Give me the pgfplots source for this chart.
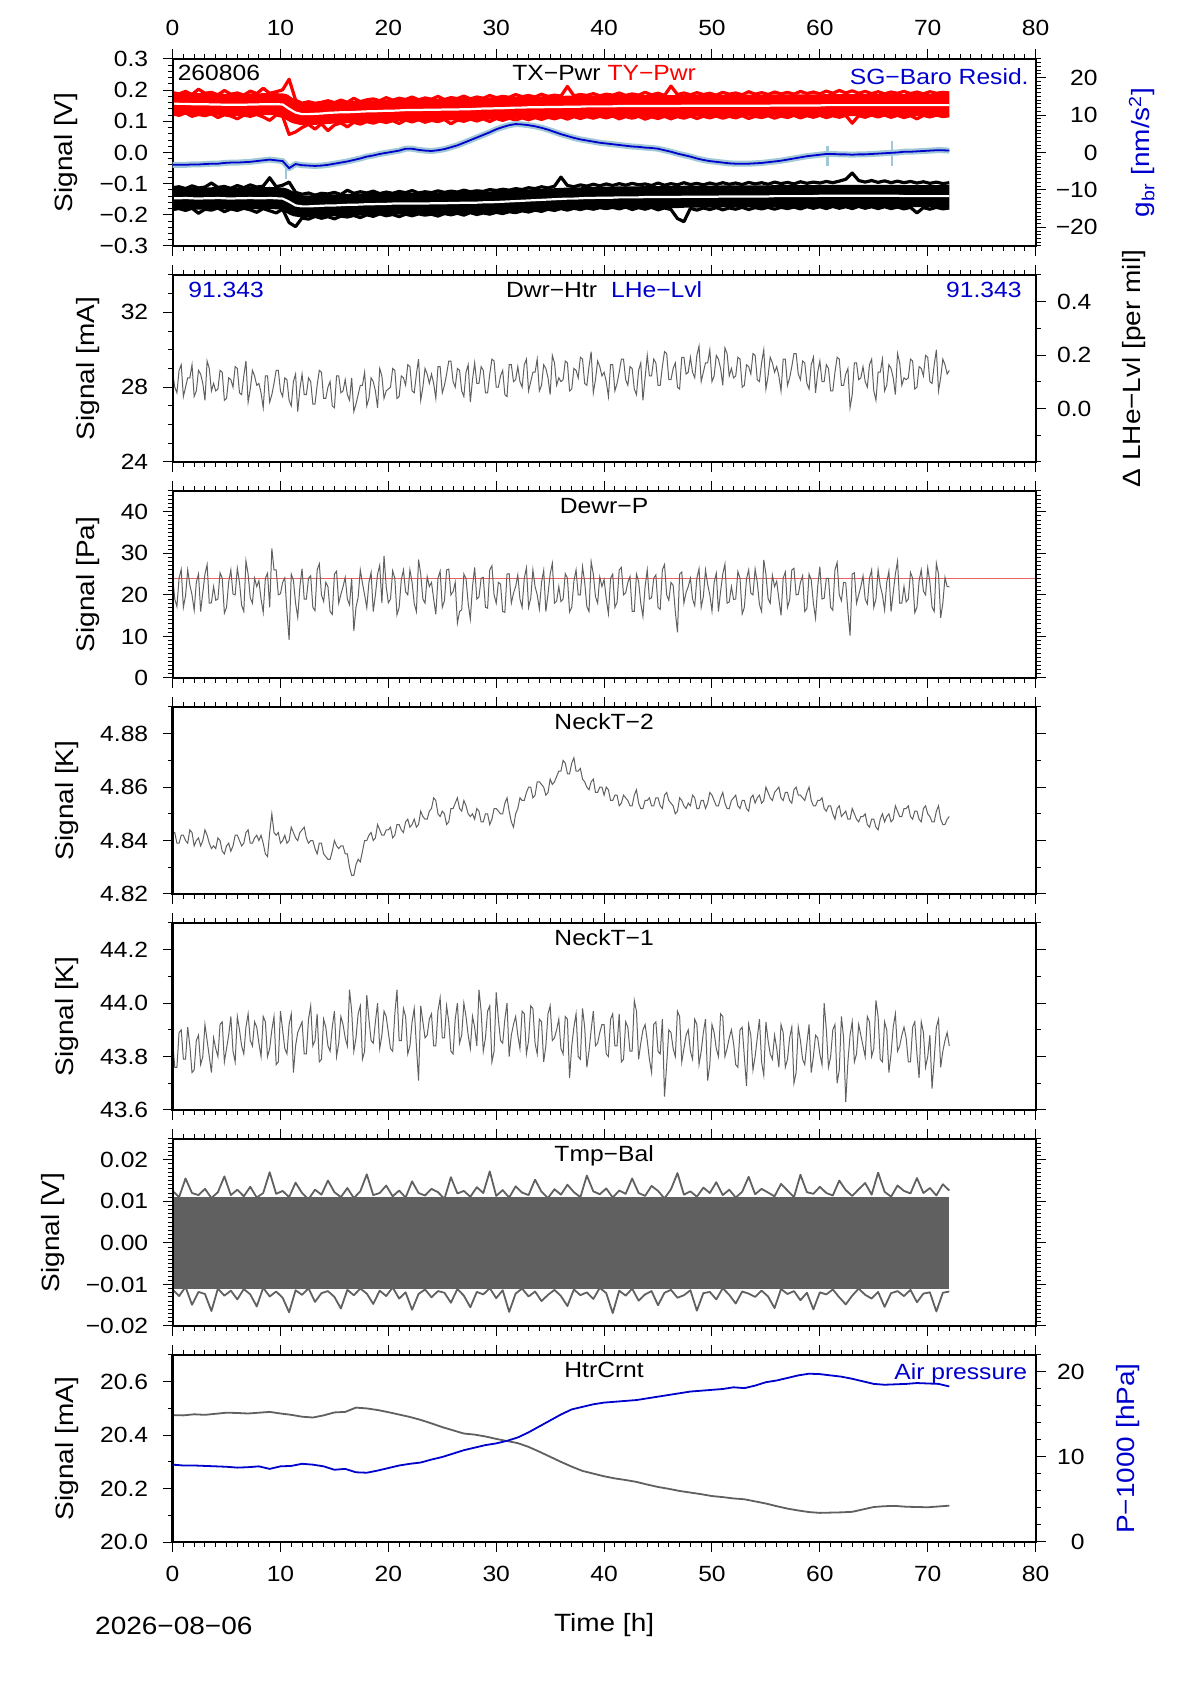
\documentclass[border=0pt]{standalone}
\usepackage{fontspec}
\setmainfont{Liberation Sans}[FakeStretch=1.12]
\usepackage{pgfplots}
\pgfplotsset{compat=1.18}
\usepackage{pgfplotstable}

\definecolor{dblue}{RGB}{0,0,205}
\definecolor{lblue}{RGB}{160,200,215}
\definecolor{sgray}{RGB}{96,96,96}
\definecolor{lred}{RGB}{235,100,100}

\newcommand{\tfont}{\fontsize{11bp}{13bp}\selectfont}
\newcommand{\lfont}{\fontsize{12.5bp}{15bp}\selectfont}

% Panel 1: TY-Pwr (r) and TX-Pwr (b) envelopes and means [V]; SG-Baro residual (gC) [nm/s^2]
\pgfplotstableread{
x rU rL rC bU bL bC gC
0.0 0.192 0.124 0.157 -0.113 -0.183 -0.147 -3.3
0.6 0.188 0.119 0.156 -0.110 -0.180 -0.147 -3.3
1.2 0.196 0.127 0.156 -0.116 -0.186 -0.146 -3.3
1.8 0.186 0.116 0.155 -0.107 -0.179 -0.147 -3.2
2.4 0.203 0.122 0.155 -0.114 -0.195 -0.148 -3.2
3.0 0.190 0.118 0.155 -0.111 -0.182 -0.147 -3.1
3.6 0.193 0.124 0.154 -0.098 -0.185 -0.147 -3.0
4.2 0.185 0.112 0.154 -0.112 -0.178 -0.146 -3.0
4.8 0.199 0.121 0.153 -0.109 -0.190 -0.147 -2.8
5.4 0.187 0.117 0.153 -0.115 -0.181 -0.148 -2.7
6.0 0.191 0.108 0.153 -0.106 -0.186 -0.147 -2.7
6.6 0.184 0.120 0.153 -0.113 -0.179 -0.147 -2.6
7.2 0.197 0.116 0.154 -0.104 -0.184 -0.146 -2.5
7.8 0.189 0.122 0.154 -0.111 -0.192 -0.147 -2.3
8.4 0.206 0.114 0.155 -0.108 -0.180 -0.147 -2.1
9.0 0.190 0.103 0.155 -0.081 -0.187 -0.146 -1.9
9.6 0.195 0.120 0.155 -0.110 -0.194 -0.147 -2.1
10.2 0.201 0.116 0.154 -0.105 -0.182 -0.148 -2.3
10.8 0.235 0.058 0.140 -0.095 -0.225 -0.158 -4.2
11.4 0.168 0.066 0.128 -0.128 -0.238 -0.170 -3.1
12.0 0.158 0.080 0.123 -0.134 -0.210 -0.173 -3.4
12.6 0.163 0.090 0.123 -0.130 -0.214 -0.173 -3.5
13.2 0.158 0.075 0.124 -0.137 -0.205 -0.172 -3.6
13.8 0.161 0.092 0.125 -0.131 -0.211 -0.171 -3.5
14.4 0.166 0.070 0.127 -0.133 -0.206 -0.170 -3.3
15.0 0.160 0.088 0.128 -0.128 -0.213 -0.170 -3.0
15.6 0.168 0.095 0.129 -0.135 -0.204 -0.169 -2.7
16.2 0.161 0.082 0.129 -0.121 -0.207 -0.168 -2.4
16.8 0.174 0.097 0.130 -0.131 -0.202 -0.168 -2.0
17.4 0.163 0.091 0.131 -0.126 -0.209 -0.167 -1.6
18.0 0.169 0.099 0.132 -0.130 -0.200 -0.166 -1.1
18.6 0.172 0.094 0.132 -0.124 -0.205 -0.166 -0.8
19.2 0.166 0.101 0.133 -0.132 -0.197 -0.165 -0.4
19.8 0.176 0.096 0.134 -0.127 -0.203 -0.165 -0.1
20.4 0.168 0.102 0.134 -0.131 -0.199 -0.164 0.2
21.0 0.174 0.093 0.135 -0.125 -0.206 -0.164 0.5
21.6 0.170 0.104 0.136 -0.129 -0.198 -0.164 1.0
22.2 0.178 0.098 0.136 -0.122 -0.203 -0.164 1.0
22.8 0.169 0.105 0.136 -0.130 -0.197 -0.164 0.7
23.4 0.175 0.097 0.137 -0.126 -0.201 -0.164 0.5
24.0 0.171 0.103 0.137 -0.129 -0.198 -0.163 0.4
24.6 0.180 0.099 0.137 -0.123 -0.204 -0.163 0.6
25.2 0.170 0.106 0.138 -0.128 -0.196 -0.163 0.9
25.8 0.176 0.092 0.138 -0.124 -0.200 -0.162 1.4
26.4 0.173 0.104 0.138 -0.127 -0.195 -0.162 1.9
27.0 0.181 0.100 0.139 -0.121 -0.201 -0.161 2.6
27.6 0.172 0.107 0.139 -0.126 -0.193 -0.161 3.3
28.2 0.178 0.101 0.140 -0.123 -0.199 -0.161 4.0
28.8 0.174 0.108 0.141 -0.125 -0.194 -0.160 4.7
29.4 0.183 0.099 0.141 -0.119 -0.198 -0.160 5.4
30.0 0.176 0.109 0.142 -0.122 -0.192 -0.159 6.2
30.6 0.180 0.103 0.142 -0.118 -0.196 -0.158 6.8
31.2 0.177 0.110 0.143 -0.121 -0.190 -0.157 7.3
31.8 0.186 0.104 0.144 -0.116 -0.193 -0.156 7.6
32.4 0.179 0.111 0.144 -0.119 -0.187 -0.155 7.5
33.0 0.183 0.105 0.145 -0.113 -0.191 -0.154 7.3
33.6 0.178 0.112 0.145 -0.116 -0.185 -0.153 7.0
34.2 0.187 0.106 0.145 -0.110 -0.189 -0.152 6.6
34.8 0.180 0.113 0.146 -0.114 -0.182 -0.151 6.1
35.4 0.184 0.108 0.146 -0.108 -0.186 -0.150 5.5
36.0 0.181 0.114 0.146 -0.079 -0.180 -0.149 4.9
36.6 0.212 0.107 0.147 -0.106 -0.185 -0.148 4.4
37.2 0.182 0.115 0.147 -0.110 -0.179 -0.148 3.9
37.8 0.186 0.109 0.147 -0.104 -0.183 -0.147 3.5
38.4 0.183 0.115 0.148 -0.108 -0.178 -0.146 3.2
39.0 0.189 0.110 0.148 -0.102 -0.182 -0.146 2.9
39.6 0.182 0.116 0.148 -0.107 -0.177 -0.145 2.6
40.2 0.187 0.111 0.148 -0.101 -0.180 -0.145 2.4
40.8 0.184 0.117 0.148 -0.106 -0.176 -0.145 2.2
41.4 0.191 0.108 0.149 -0.100 -0.181 -0.144 2.0
42.0 0.183 0.115 0.149 -0.105 -0.175 -0.144 1.8
42.6 0.188 0.110 0.149 -0.099 -0.183 -0.144 1.6
43.2 0.184 0.116 0.149 -0.104 -0.177 -0.144 1.5
43.8 0.193 0.107 0.149 -0.101 -0.182 -0.143 1.3
44.4 0.185 0.114 0.149 -0.106 -0.176 -0.143 1.2
45.0 0.190 0.109 0.149 -0.098 -0.184 -0.143 1.0
45.6 0.183 0.116 0.149 -0.105 -0.178 -0.143 0.6
46.2 0.213 0.108 0.149 -0.100 -0.183 -0.143 0.2
46.8 0.186 0.115 0.149 -0.104 -0.212 -0.143 -0.3
47.4 0.191 0.110 0.150 -0.097 -0.222 -0.142 -0.7
48.0 0.185 0.117 0.150 -0.103 -0.179 -0.142 -1.1
48.6 0.192 0.109 0.150 -0.099 -0.185 -0.142 -1.6
49.2 0.186 0.116 0.150 -0.104 -0.178 -0.142 -2.0
49.8 0.190 0.111 0.150 -0.098 -0.183 -0.142 -2.3
50.4 0.184 0.117 0.150 -0.103 -0.177 -0.142 -2.5
51.0 0.193 0.110 0.150 -0.097 -0.184 -0.141 -2.7
51.6 0.187 0.116 0.150 -0.102 -0.178 -0.141 -2.9
52.2 0.191 0.111 0.150 -0.098 -0.182 -0.141 -3.0
52.8 0.185 0.118 0.150 -0.103 -0.176 -0.141 -3.0
53.4 0.195 0.109 0.150 -0.096 -0.183 -0.141 -3.0
54.0 0.187 0.116 0.150 -0.101 -0.177 -0.141 -2.9
54.6 0.192 0.112 0.150 -0.097 -0.181 -0.141 -2.8
55.2 0.186 0.118 0.150 -0.102 -0.176 -0.141 -2.6
55.8 0.194 0.110 0.151 -0.095 -0.182 -0.140 -2.4
56.4 0.188 0.117 0.151 -0.100 -0.176 -0.140 -2.2
57.0 0.193 0.112 0.151 -0.096 -0.180 -0.140 -1.9
57.6 0.187 0.119 0.151 -0.101 -0.175 -0.140 -1.6
58.2 0.196 0.111 0.151 -0.094 -0.181 -0.140 -1.3
58.8 0.189 0.118 0.151 -0.099 -0.174 -0.140 -1.0
59.4 0.194 0.113 0.151 -0.095 -0.179 -0.140 -0.8
60.0 0.188 0.119 0.151 -0.098 -0.174 -0.139 -0.6
60.6 0.197 0.112 0.152 -0.093 -0.180 -0.139 -0.4
61.2 0.190 0.118 0.152 -0.097 -0.173 -0.139 -0.4
61.8 0.199 0.113 0.152 -0.092 -0.179 -0.139 -0.5
62.4 0.191 0.119 0.152 -0.086 -0.174 -0.139 -0.5
63.0 0.198 0.094 0.152 -0.066 -0.180 -0.139 -0.6
63.6 0.190 0.118 0.152 -0.090 -0.173 -0.139 -0.5
64.2 0.196 0.113 0.152 -0.095 -0.179 -0.139 -0.5
64.8 0.189 0.120 0.152 -0.090 -0.174 -0.139 -0.4
65.4 0.195 0.114 0.152 -0.096 -0.180 -0.139 -0.3
66.0 0.188 0.120 0.152 -0.091 -0.174 -0.139 -0.2
66.6 0.194 0.113 0.152 -0.097 -0.180 -0.139 -0.1
67.2 0.190 0.119 0.152 -0.092 -0.175 -0.139 0.0
67.8 0.196 0.112 0.152 -0.097 -0.181 -0.140 0.2
68.4 0.189 0.118 0.152 -0.093 -0.176 -0.140 0.2
69.0 0.194 0.108 0.152 -0.098 -0.194 -0.140 0.3
69.6 0.188 0.119 0.152 -0.094 -0.177 -0.140 0.4
70.2 0.195 0.114 0.152 -0.099 -0.182 -0.140 0.5
70.8 0.190 0.120 0.152 -0.095 -0.176 -0.140 0.6
71.4 0.193 0.115 0.152 -0.100 -0.181 -0.140 0.6
72.0 0.191 0.118 0.152 -0.097 -0.178 -0.140 0.5
}\tabP

% Panels 2-5: Dwr-Htr [mA], Dewr-P [Pa], NeckT-2 [K], NeckT-1 [K]
\pgfplotstableread{
x dwr dewr nt2 nt1
0.0 28.8 24.5 4.843 43.86
0.2 28.0 19.0 4.843 43.76
0.4 27.7 17.2 4.839 43.76
0.6 28.9 24.0 4.839 43.89
0.8 29.2 26.1 4.842 43.90
1.0 27.5 17.0 4.842 43.79
1.2 28.0 19.8 4.840 43.79
1.4 28.5 26.0 4.839 43.91
1.6 28.5 22.4 4.844 43.84
1.8 29.2 20.0 4.843 43.74
2.0 27.5 16.3 4.838 43.75
2.2 27.8 23.0 4.840 43.86
2.4 28.9 25.0 4.841 43.88
2.6 28.7 16.0 4.838 43.77
2.8 28.2 20.6 4.840 43.80
3.0 27.3 25.0 4.844 43.92
3.2 29.4 27.3 4.842 43.86
3.4 29.0 18.0 4.839 43.80
3.6 27.8 18.1 4.837 43.74
3.8 28.2 22.0 4.838 43.87
4.0 27.8 18.7 4.837 43.83
4.2 27.9 19.0 4.841 43.80
4.4 28.9 25.3 4.840 43.92
4.6 28.8 24.0 4.836 43.93
4.8 27.3 15.6 4.835 43.78
5.0 27.4 17.0 4.838 43.83
5.2 28.5 23.1 4.839 43.88
5.4 28.4 26.0 4.836 43.95
5.6 28.0 20.2 4.838 43.82
5.8 29.1 20.0 4.842 43.78
6.0 29.0 26.4 4.842 43.95
6.2 27.7 23.0 4.840 43.90
6.4 27.6 17.5 4.838 43.84
6.6 28.6 16.0 4.839 43.81
6.8 29.4 28.2 4.843 43.91
7.0 27.2 25.0 4.844 43.96
7.2 27.9 19.3 4.839 43.86
7.4 28.9 18.0 4.839 43.84
7.6 28.6 24.0 4.841 43.93
7.8 28.1 22.0 4.842 43.91
8.0 28.2 23.4 4.840 43.85
8.2 27.7 19.0 4.842 43.80
8.4 26.9 15.8 4.839 43.95
8.6 28.6 24.0 4.835 43.93
8.8 28.6 25.2 4.834 43.80
9.0 27.2 17.0 4.843 43.83
9.2 27.6 31.2 4.850 43.90
9.4 28.2 26.0 4.843 43.95
9.6 28.9 26.0 4.842 43.77
9.8 28.9 20.0 4.843 43.78
10.0 27.8 20.3 4.839 43.97
10.2 27.5 23.0 4.840 43.90
10.4 28.5 24.1 4.842 43.83
10.6 28.4 16.0 4.839 43.81
10.8 27.3 9.2 4.840 43.92
11.0 27.0 25.0 4.845 43.96
11.2 28.3 23.5 4.843 43.74
11.4 28.7 18.0 4.841 43.84
11.6 26.7 14.6 4.840 43.89
11.8 27.9 22.0 4.843 43.91
12.0 28.7 26.3 4.844 43.93
12.2 27.6 19.0 4.845 43.81
12.4 27.6 19.0 4.841 43.81
12.6 28.5 24.0 4.839 43.94
12.8 28.3 24.6 4.840 43.99
13.0 27.1 17.0 4.840 43.84
13.2 27.1 16.2 4.837 43.86
13.4 28.1 26.0 4.835 43.96
13.6 28.9 27.5 4.839 43.78
13.8 28.8 20.0 4.839 43.79
14.0 27.4 18.4 4.835 43.94
14.2 27.4 23.0 4.834 43.91
14.4 28.0 22.0 4.833 43.84
14.6 28.3 16.0 4.833 43.82
14.8 27.0 15.3 4.836 43.91
15.0 26.9 25.0 4.840 43.97
15.2 28.6 25.7 4.838 43.80
15.4 28.6 18.0 4.837 43.85
15.6 27.7 20.1 4.838 43.95
15.8 27.8 22.0 4.838 43.92
16.0 28.4 24.2 4.835 43.87
16.2 27.6 19.0 4.835 43.84
16.4 27.3 17.6 4.830 44.05
16.6 28.5 24.0 4.827 43.97
16.8 26.7 11.3 4.827 43.82
17.0 27.1 17.0 4.831 43.87
17.2 27.6 19.4 4.833 43.96
17.4 28.1 26.0 4.832 43.99
17.6 28.1 22.8 4.836 43.79
17.8 28.8 20.0 4.840 43.82
18.0 27.0 16.9 4.840 44.03
18.2 27.4 23.0 4.842 43.94
18.4 28.5 25.4 4.843 43.86
18.6 28.3 16.0 4.840 43.85
18.8 27.8 20.0 4.841 43.93
19.0 26.9 25.0 4.846 44.00
19.2 29.0 27.1 4.844 43.83
19.4 28.6 18.0 4.842 43.88
19.6 27.4 29.4 4.842 43.97
19.8 27.8 22.0 4.844 43.95
20.0 27.9 18.1 4.844 43.89
20.2 28.0 19.0 4.845 43.83
20.4 29.0 25.8 4.841 43.82
20.6 28.9 24.0 4.842 43.96
20.8 27.4 15.2 4.846 44.05
21.0 27.5 17.0 4.846 43.86
21.2 28.6 23.6 4.844 43.86
21.4 28.5 26.0 4.843 43.98
21.6 28.1 20.7 4.847 43.95
21.8 29.2 20.0 4.848 43.81
22.0 29.1 26.0 4.845 43.84
22.2 27.8 23.0 4.846 43.93
22.4 27.7 17.9 4.848 43.98
22.6 28.7 16.0 4.845 43.84
22.8 29.5 28.5 4.846 43.71
23.0 27.3 25.0 4.851 43.99
23.2 28.0 19.0 4.849 43.93
23.4 29.0 18.0 4.848 43.87
23.6 28.7 24.4 4.848 43.88
23.8 28.2 22.0 4.851 43.94
24.0 28.7 23.0 4.852 43.96
24.2 28.2 19.0 4.856 43.84
24.4 27.4 15.3 4.855 43.84
24.6 29.1 24.0 4.850 43.97
24.8 29.1 25.7 4.849 44.02
25.0 27.7 17.0 4.851 43.87
25.2 28.1 18.6 4.850 43.87
25.4 28.7 26.0 4.846 43.99
25.6 29.4 26.2 4.847 43.93
25.8 29.4 20.0 4.852 43.82
26.0 28.3 20.8 4.852 43.81
26.2 28.0 23.0 4.854 43.94
26.4 29.0 13.2 4.856 44.00
26.6 28.9 16.0 4.852 43.85
26.8 27.8 16.4 4.851 43.88
27.0 27.5 25.0 4.855 44.00
27.2 28.8 23.9 4.853 43.95
27.4 29.2 18.0 4.850 43.88
27.6 27.2 14.2 4.849 43.83
27.8 28.4 22.0 4.850 43.95
28.0 29.3 26.6 4.848 43.91
28.2 28.2 19.0 4.852 43.84
28.4 28.2 19.5 4.851 44.05
28.6 29.1 24.0 4.847 43.97
28.8 28.9 24.2 4.847 43.82
29.0 27.7 17.0 4.850 43.87
29.2 27.7 16.8 4.850 43.97
29.4 28.7 26.0 4.846 43.99
29.6 29.5 27.0 4.848 43.78
29.8 29.4 20.0 4.852 43.82
30.0 28.0 18.0 4.852 44.04
30.2 28.0 23.0 4.851 43.94
30.4 28.6 22.6 4.850 43.86
30.6 28.9 16.0 4.850 43.85
30.8 27.6 15.8 4.854 43.94
31.0 27.5 25.0 4.856 44.00
31.2 29.2 25.1 4.851 43.80
31.4 29.2 18.0 4.847 43.88
31.6 28.3 20.4 4.845 43.92
31.8 28.4 22.0 4.850 43.95
32.0 29.1 24.8 4.852 43.88
32.2 28.3 19.0 4.856 43.83
32.4 28.0 17.0 4.855 43.97
32.6 29.2 24.0 4.855 43.96
32.8 29.5 26.5 4.858 43.81
33.0 27.8 17.0 4.860 43.86
33.2 28.3 19.2 4.860 43.99
33.4 28.8 26.0 4.856 43.98
33.6 28.8 22.0 4.857 43.85
33.8 29.5 20.0 4.862 43.81
34.0 27.8 16.6 4.862 43.94
34.2 28.1 23.0 4.861 43.93
34.4 29.2 25.9 4.860 43.78
34.6 29.0 16.0 4.857 43.84
34.8 28.5 20.2 4.858 43.96
35.0 27.6 25.0 4.863 43.99
35.2 29.7 27.6 4.861 43.86
35.4 29.3 18.0 4.862 43.87
35.6 28.1 18.5 4.864 43.90
35.8 28.5 22.0 4.866 43.94
36.0 28.3 18.4 4.866 43.83
36.2 28.4 19.0 4.870 43.81
36.4 29.4 25.1 4.869 43.95
36.6 29.3 24.0 4.865 43.94
36.8 27.8 15.9 4.865 43.72
37.0 27.9 17.0 4.869 43.84
37.2 29.0 23.3 4.871 43.91
37.4 28.9 26.0 4.866 43.96
37.6 28.5 20.0 4.866 43.80
37.8 29.6 20.0 4.867 43.79
38.0 29.5 26.8 4.863 43.98
38.2 28.2 23.0 4.862 43.91
38.4 28.1 17.2 4.860 43.76
38.6 29.1 16.0 4.859 43.82
38.8 29.9 28.0 4.862 43.90
39.0 27.7 25.0 4.863 43.97
39.2 28.4 19.6 4.858 43.84
39.4 29.4 18.0 4.858 43.85
39.6 29.1 24.3 4.860 43.89
39.8 28.6 22.0 4.860 43.92
40.0 28.8 23.7 4.857 43.92
40.2 28.3 19.0 4.860 43.81
40.4 27.5 15.5 4.859 43.80
40.6 29.2 24.0 4.855 43.94
40.8 29.2 25.0 4.855 43.96
41.0 27.8 17.0 4.857 43.84
41.2 28.2 18.2 4.857 43.84
41.4 28.8 26.0 4.853 43.96
41.6 29.5 26.6 4.854 43.78
41.8 29.5 20.0 4.857 43.79
42.0 28.4 20.5 4.856 43.93
42.2 28.1 23.0 4.855 43.91
42.4 29.1 24.4 4.853 43.82
42.6 29.0 16.0 4.853 43.82
42.8 27.9 16.0 4.857 44.01
43.0 27.6 25.0 4.859 43.97
43.2 28.9 23.2 4.854 43.79
43.4 29.3 18.0 4.852 43.85
43.6 27.3 14.8 4.852 43.90
43.8 28.5 22.0 4.855 43.92
44.0 29.7 26.0 4.855 43.86
44.2 28.6 19.0 4.856 43.79
44.4 28.6 19.3 4.853 43.74
44.6 29.5 24.0 4.853 43.92
44.8 29.3 24.8 4.856 43.93
45.0 28.1 17.0 4.856 43.82
45.2 28.1 16.5 4.853 43.81
45.4 29.1 26.0 4.852 43.94
45.6 29.9 27.3 4.857 43.65
45.8 29.8 20.0 4.858 43.77
46.0 28.4 18.7 4.855 43.90
46.2 28.4 23.0 4.854 43.89
46.4 29.0 22.3 4.853 43.83
46.6 29.3 16.0 4.850 43.80
46.8 28.0 11.0 4.851 43.97
47.0 27.9 25.0 4.856 43.95
47.2 29.6 25.5 4.855 43.78
47.4 29.6 18.0 4.853 43.83
47.6 28.7 20.6 4.852 43.88
47.8 28.8 22.0 4.854 43.90
48.0 29.6 24.0 4.853 43.82
48.2 28.8 19.0 4.857 43.79
48.4 28.5 17.4 4.856 43.94
48.6 29.7 24.0 4.852 43.92
48.8 30.2 26.3 4.852 43.77
49.0 28.3 17.0 4.855 43.82
49.2 28.8 19.6 4.855 43.89
49.4 29.3 26.0 4.852 43.94
49.6 29.3 22.5 4.854 43.71
49.8 30.0 20.0 4.858 43.77
50.0 28.3 16.1 4.857 43.92
50.2 28.6 23.0 4.855 43.89
50.4 29.7 25.2 4.853 43.83
50.6 29.5 16.0 4.853 43.80
50.8 29.0 20.9 4.856 43.96
51.0 28.1 25.0 4.858 43.95
51.2 30.1 27.4 4.854 43.80
51.4 29.8 18.0 4.852 43.83
51.6 28.6 18.3 4.852 43.87
51.8 29.0 22.0 4.855 43.90
52.0 28.5 18.9 4.856 43.85
52.2 28.6 19.0 4.857 43.77
52.4 29.6 25.6 4.853 43.76
52.6 29.5 24.0 4.852 43.90
52.8 28.0 15.4 4.855 43.91
53.0 28.1 17.0 4.855 43.80
53.2 29.2 23.8 4.852 43.69
53.4 29.1 26.0 4.851 43.92
53.6 28.7 20.4 4.856 43.88
53.8 29.8 20.0 4.857 43.75
54.0 29.7 26.2 4.854 43.80
54.2 28.4 23.0 4.856 43.87
54.4 28.3 17.7 4.857 43.94
54.6 29.3 16.0 4.854 43.78
54.8 30.0 28.4 4.855 43.73
55.0 27.9 25.0 4.860 43.93
55.2 28.6 19.1 4.858 43.86
55.4 29.6 18.0 4.856 43.81
55.6 29.3 24.7 4.855 43.79
55.8 28.8 22.0 4.858 43.88
56.0 29.1 23.3 4.859 43.83
56.2 28.6 19.0 4.860 43.76
56.4 27.8 15.1 4.856 43.92
56.6 29.5 24.0 4.855 43.89
56.8 29.5 25.5 4.858 43.76
57.0 28.1 17.0 4.858 43.79
57.2 28.5 18.8 4.855 43.87
57.4 29.1 26.0 4.854 43.91
57.6 29.8 26.4 4.859 43.70
57.8 29.8 20.0 4.860 43.74
58.0 28.7 20.1 4.857 43.91
58.2 28.4 23.0 4.857 43.86
58.4 29.4 24.6 4.856 43.79
58.6 29.3 16.0 4.855 43.77
58.8 28.2 16.7 4.858 43.85
59.0 27.9 25.0 4.860 43.92
59.2 29.2 23.6 4.855 43.74
59.4 29.6 18.0 4.853 43.80
59.6 27.7 14.4 4.853 43.88
59.8 28.8 22.0 4.855 43.87
60.0 29.4 26.8 4.855 43.81
60.2 28.3 19.0 4.856 43.77
60.4 28.3 19.2 4.852 44.00
60.6 29.2 24.0 4.851 43.90
60.8 29.0 24.0 4.853 43.76
61.0 27.8 17.0 4.853 43.80
61.2 27.8 16.3 4.850 43.90
61.4 28.8 26.0 4.848 43.92
61.6 29.6 27.8 4.852 43.70
61.8 29.5 20.0 4.853 43.75
62.0 28.1 18.6 4.849 43.95
62.2 28.1 23.0 4.850 43.87
62.4 28.7 22.9 4.851 43.63
62.6 29.0 16.0 4.848 43.78
62.8 26.9 10.2 4.848 43.88
63.0 27.6 25.0 4.852 43.93
63.2 29.3 25.3 4.850 43.78
63.4 29.3 18.0 4.848 43.81
63.6 28.4 20.0 4.847 43.92
63.8 28.5 22.0 4.849 43.88
64.0 29.1 24.6 4.849 43.84
64.2 28.3 19.0 4.850 43.80
64.4 28.0 17.8 4.846 43.95
64.6 29.2 24.0 4.845 43.93
64.8 29.5 26.0 4.848 43.80
65.0 27.8 17.0 4.848 43.83
65.2 27.3 19.0 4.845 44.01
65.4 28.8 26.0 4.844 43.95
65.6 28.8 22.2 4.848 43.79
65.8 29.5 20.0 4.850 43.78
66.0 27.8 16.4 4.847 43.93
66.2 28.1 23.0 4.849 43.90
66.4 29.2 25.7 4.850 43.74
66.6 29.0 16.0 4.847 43.81
66.8 28.5 20.5 4.848 43.91
67.0 27.6 25.0 4.853 43.96
67.2 29.8 28.1 4.851 43.82
67.4 29.3 18.0 4.849 43.84
67.6 28.1 18.0 4.849 43.88
67.8 28.5 22.0 4.852 43.91
68.0 28.4 18.3 4.852 43.87
68.2 28.5 19.0 4.853 43.78
68.4 29.5 25.4 4.849 43.78
68.6 29.4 24.0 4.848 43.91
68.8 27.9 15.7 4.851 43.93
69.0 28.0 17.0 4.851 43.81
69.2 29.1 23.4 4.848 43.72
69.4 29.0 26.0 4.847 43.93
69.6 28.6 20.9 4.852 43.89
69.8 29.7 20.0 4.853 43.76
70.0 29.6 26.5 4.850 43.80
70.2 28.3 23.0 4.849 43.88
70.4 28.2 17.1 4.847 43.68
70.6 29.2 16.0 4.847 43.79
70.8 30.0 27.6 4.851 43.91
71.0 27.8 25.0 4.853 43.94
71.2 28.5 14.5 4.848 43.76
71.4 29.5 18.0 4.846 43.82
71.6 29.2 24.2 4.846 43.86
71.8 28.7 22.0 4.848 43.89
72.0 28.9 22.0 4.849 43.84
}\tabN

% Panel 6: Tmp-Bal envelope [V]
\pgfplotstableread{
x up lo
0.0 0.0125 -0.0112
0.6 0.0110 -0.0128
1.2 0.0155 -0.0106
1.8 0.0120 -0.0149
2.4 0.0115 -0.0118
3.0 0.0130 -0.0123
3.6 0.0108 -0.0164
4.2 0.0122 -0.0110
4.8 0.0160 -0.0127
5.4 0.0115 -0.0115
6.0 0.0128 -0.0136
6.6 0.0112 -0.0111
7.2 0.0135 -0.0124
7.8 0.0109 -0.0153
8.4 0.0120 -0.0108
9.0 0.0170 -0.0129
9.6 0.0118 -0.0117
10.2 0.0125 -0.0132
10.8 0.0110 -0.0167
11.4 0.0145 -0.0114
12.0 0.0120 -0.0125
12.6 0.0105 -0.0109
13.2 0.0128 -0.0142
13.8 0.0116 -0.0121
14.4 0.0150 -0.0116
15.0 0.0122 -0.0130
15.6 0.0110 -0.0158
16.2 0.0132 -0.0113
16.8 0.0108 -0.0126
17.4 0.0124 -0.0110
18.0 0.0165 -0.0122
18.6 0.0115 -0.0147
19.2 0.0120 -0.0115
19.8 0.0138 -0.0128
20.4 0.0112 -0.0107
21.0 0.0126 -0.0134
21.6 0.0109 -0.0119
22.2 0.0148 -0.0161
22.8 0.0120 -0.0123
23.4 0.0114 -0.0112
24.0 0.0130 -0.0131
24.6 0.0122 -0.0116
25.2 0.0106 -0.0120
25.8 0.0158 -0.0144
26.4 0.0119 -0.0111
27.0 0.0125 -0.0127
27.6 0.0111 -0.0155
28.2 0.0134 -0.0118
28.8 0.0120 -0.0124
29.4 0.0172 -0.0109
30.0 0.0113 -0.0133
30.6 0.0127 -0.0114
31.2 0.0109 -0.0166
31.8 0.0136 -0.0122
32.4 0.0121 -0.0110
33.0 0.0115 -0.0129
33.6 0.0152 -0.0117
34.2 0.0123 -0.0140
34.8 0.0108 -0.0125
35.4 0.0129 -0.0113
36.0 0.0116 -0.0128
36.6 0.0140 -0.0152
37.2 0.0122 -0.0112
37.8 0.0110 -0.0126
38.4 0.0162 -0.0119
39.0 0.0124 -0.0135
39.6 0.0117 -0.0108
40.2 0.0131 -0.0121
40.8 0.0109 -0.0169
41.4 0.0126 -0.0115
42.0 0.0118 -0.0127
42.6 0.0155 -0.0110
43.2 0.0120 -0.0139
43.8 0.0113 -0.0124
44.4 0.0137 -0.0116
45.0 0.0125 -0.0150
45.6 0.0107 -0.0120
46.2 0.0129 -0.0113
46.8 0.0168 -0.0132
47.4 0.0116 -0.0126
48.0 0.0124 -0.0114
48.6 0.0111 -0.0163
49.2 0.0133 -0.0121
49.8 0.0120 -0.0118
50.4 0.0146 -0.0136
51.0 0.0115 -0.0109
51.6 0.0128 -0.0125
52.2 0.0109 -0.0146
52.8 0.0123 -0.0117
53.4 0.0159 -0.0122
54.0 0.0117 -0.0130
54.6 0.0130 -0.0115
55.2 0.0121 -0.0129
55.8 0.0112 -0.0157
56.4 0.0142 -0.0111
57.0 0.0126 -0.0123
57.6 0.0110 -0.0116
58.2 0.0164 -0.0138
58.8 0.0122 -0.0120
59.4 0.0118 -0.0160
60.0 0.0135 -0.0119
60.6 0.0120 -0.0124
61.2 0.0114 -0.0112
61.8 0.0150 -0.0131
62.4 0.0127 -0.0148
63.0 0.0113 -0.0127
63.6 0.0129 -0.0110
64.2 0.0144 -0.0125
64.8 0.0116 -0.0134
65.4 0.0169 -0.0118
66.0 0.0123 -0.0154
66.6 0.0111 -0.0121
67.2 0.0138 -0.0116
67.8 0.0125 -0.0128
68.4 0.0119 -0.0113
69.0 0.0156 -0.0143
69.6 0.0120 -0.0122
70.2 0.0132 -0.0119
70.8 0.0114 -0.0165
71.4 0.0141 -0.0120
72.0 0.0126 -0.0117
}\tabT

% Panel 7: HtrCrnt [mA], Air pressure P-1000 [hPa]
\pgfplotstableread{
x htr air
0 20.475 9.10
1 20.474 9.00
2 20.478 9.00
3 20.476 8.95
4 20.480 8.90
5 20.484 8.85
6 20.483 8.75
7 20.481 8.80
8 20.484 8.90
9 20.487 8.60
10 20.481 8.90
11 20.476 8.95
12 20.469 9.20
13 20.466 9.10
14 20.474 8.90
15 20.485 8.50
16 20.487 8.60
17 20.503 8.20
18 20.500 8.15
19 20.494 8.40
20 20.486 8.70
21 20.477 9.00
22 20.468 9.20
23 20.457 9.35
24 20.444 9.70
25 20.430 10.00
26 20.418 10.40
27 20.406 10.80
28 20.402 11.10
29 20.395 11.40
30 20.386 11.60
31 20.378 11.90
32 20.370 12.30
33 20.356 12.90
34 20.338 13.60
35 20.319 14.30
36 20.300 15.00
37 20.282 15.60
38 20.266 15.90
39 20.256 16.20
40 20.246 16.40
41 20.238 16.50
42 20.232 16.60
43 20.225 16.70
44 20.215 16.90
45 20.206 17.10
46 20.199 17.30
47 20.191 17.50
48 20.185 17.70
49 20.179 17.80
50 20.172 17.90
51 20.168 18.00
52 20.163 18.20
53 20.160 18.10
54 20.152 18.40
55 20.144 18.80
56 20.134 19.00
57 20.125 19.30
58 20.118 19.60
59 20.112 19.80
60 20.109 19.75
61 20.110 19.60
62 20.111 19.45
63 20.113 19.20
64 20.122 18.90
65 20.131 18.60
66 20.134 18.50
67 20.135 18.55
68 20.132 18.60
69 20.131 18.70
70 20.130 18.65
71 20.133 18.60
72 20.136 18.30
}\tabH

\pgfplotsset{
  panel/.style={
    scale only axis, width=431.5bp, height=93.5bp,
    anchor=south west, clip=false, axis on top,
    xmin=0, xmax=80,
    xtick={0,10,20,30,40,50,60,70,80},
    minor xtick={0,1,...,80},
    xticklabels={},
    tick align=outside, xtick pos=both,
    major tick length=5bp, minor tick length=2.5bp,
    tick style={black, line width=0.5bp},
    axis line style={line width=1.1bp},
    ticklabel style={font=\tfont, inner sep=0pt},
    scaled ticks=false,
    ylabel style={font=\lfont, inner sep=0pt, at={(ticklabel cs:0.5,10.5bp)}},
  },
  mainy/.style={yticklabel style={xshift=-7bp}},
  twin/.style={
    axis y line*=right, axis x line=none,
    ylabel style={at={(ticklabel cs:0.5,15.5bp)}},
  },
}

\begin{document}
\begin{tikzpicture}
\path[use as bounding box] (0,0) rectangle (595bp,842bp);

% ---------------- Panel 1 ----------------
\begin{axis}[panel, mainy, at={(86.3bp,719bp)},
  ymin=-0.3, ymax=0.3,
  ytick={-0.3,-0.2,-0.1,0,0.1,0.2,0.3},
  yticklabels={−0.3,−0.2,−0.1,0.0,0.1,0.2,0.3},
  minor ytick={-0.3,-0.28,...,0.3},
  ytick pos=left,
  xticklabel pos=right, xticklabels={0,10,20,30,40,50,60,70,80},
  xticklabel style={yshift=6.5bp},
  ylabel={Signal [V]}]
\addplot[red, line width=1.6bp, line join=round] table[x=x,y=rU]{\tabP};
\addplot[red, line width=1.6bp, line join=round] table[x=x,y=rL]{\tabP};
\addplot[red, line width=11bp, line join=round] table[x=x,y=rC]{\tabP};
\addplot[black, line width=1.6bp, line join=round] table[x=x,y=bU]{\tabP};
\addplot[black, line width=1.6bp, line join=round] table[x=x,y=bL]{\tabP};
\addplot[black, line width=11bp, line join=round] table[x=x,y=bC]{\tabP};
\addplot[white, line width=1.1bp] table[x=x,y=rC]{\tabP};
\addplot[white, line width=1.1bp] table[x=x,y=bC]{\tabP};
\node[anchor=base west, inner sep=0pt, xshift=2.4bp, yshift=-10.8bp, font=\tfont] at (rel axis cs:0,1) {260806};
\node[anchor=base, inner sep=0pt, yshift=-11bp, font=\tfont] at (rel axis cs:0.5,1) {TX−Pwr \textcolor{red}{TY−Pwr}};
\node[anchor=base east, inner sep=0pt, xshift=-3.3bp, yshift=-13bp, font=\tfont, text=dblue] at (rel axis cs:1,1) {SG−Baro Resid.};
\end{axis}
\begin{axis}[panel, twin, at={(86.3bp,719bp)},
  ymin=-25, ymax=25,
  ytick={-20,-10,0,10,20}, yticklabels={−20,−10,0,10,20},
  minor ytick={-25,-24,...,25},
  yticklabel style={anchor=east, xshift=26.2bp},
  ylabel={g\textsubscript{br} [nm/s\textsuperscript{2}]}, ylabel style={text=dblue}]
\addplot[lblue, line width=3bp, line join=round] table[x=x,y=gC]{\tabP};
\addplot[lblue, line width=1.2bp] coordinates {(10.5,-2.6) (10.5,-7.0)};
\addplot[lblue, line width=1.2bp] coordinates {(60.7,1.8) (60.7,-3.7)};
\addplot[lblue, line width=1.2bp] coordinates {(66.7,3.2) (66.7,-3.7)};
\addplot[dblue, line width=0.9bp] table[x=x,y=gC]{\tabP};
\end{axis}

% ---------------- Panel 2 ----------------
\begin{axis}[panel, mainy, at={(86.3bp,611bp)},
  ymin=24, ymax=34,
  ytick={24,28,32}, yticklabels={24,28,32},
  minor ytick={24,25,...,34},
  ytick pos=left,
  ylabel={Signal [mA]}]
\addplot[sgray, line width=0.5bp] table[x=x,y=dwr]{\tabN};
\node[anchor=base west, inner sep=0pt, xshift=7.7bp, yshift=-11.5bp, font=\tfont, text=dblue] at (rel axis cs:0,1) {91.343};
\node[anchor=base east, inner sep=0pt, xshift=-6.8bp, yshift=-11.5bp, font=\tfont, text=dblue] at (rel axis cs:1,1) {91.343};
\node[anchor=base, inner sep=0pt, yshift=-11.3bp, font=\tfont] at (rel axis cs:0.5,1) {Dwr−Htr\hspace{7bp}\textcolor{dblue}{LHe−Lvl}};
\end{axis}
\begin{axis}[panel, twin, at={(86.3bp,611bp)},
  ymin=-0.2, ymax=0.5,
  ytick={0,0.2,0.4}, yticklabels={0.0,0.2,0.4},
  minor ytick={-0.2,-0.1,...,0.5},
  yticklabel style={anchor=east, xshift=23.1bp},
  ylabel={Δ LHe−Lvl [per mil]}]
\end{axis}

% ---------------- Panel 3 ----------------
\begin{axis}[panel, mainy, at={(86.3bp,503bp)},
  ymin=0, ymax=45,
  ytick={0,10,20,30,40}, yticklabels={0,10,20,30,40},
  minor ytick={0,1,...,45},
  ytick pos=both, yticklabel pos=left,
  ylabel={Signal [Pa]}]
\addplot[lred, line width=0.6bp] coordinates {(0,24) (80,24)};
\addplot[sgray, line width=0.5bp] table[x=x,y=dewr]{\tabN};
\node[anchor=base, inner sep=0pt, yshift=-11.3bp, font=\tfont] at (rel axis cs:0.5,1) {Dewr−P};
\end{axis}

% ---------------- Panel 4 ----------------
\begin{axis}[panel, mainy, at={(86.3bp,395bp)},
  ymin=4.82, ymax=4.89,
  ytick={4.82,4.84,4.86,4.88}, yticklabels={4.82,4.84,4.86,4.88},
  minor ytick={4.82,4.83,...,4.89},
  ytick pos=both, yticklabel pos=left,
  ylabel={Signal [K]}]
\addplot[sgray, line width=0.5bp] table[x=x,y=nt2]{\tabN};
\node[anchor=base, inner sep=0pt, yshift=-11.3bp, font=\tfont] at (rel axis cs:0.5,1) {NeckT−2};
\end{axis}

% ---------------- Panel 5 ----------------
\begin{axis}[panel, mainy, at={(86.3bp,287bp)},
  ymin=43.6, ymax=44.3,
  ytick={43.6,43.8,44.0,44.2}, yticklabels={43.6,43.8,44.0,44.2},
  minor ytick={43.6,43.7,...,44.3},
  ytick pos=both, yticklabel pos=left,
  ylabel={Signal [K]}]
\addplot[sgray, line width=0.5bp] table[x=x,y=nt1]{\tabN};
\node[anchor=base, inner sep=0pt, yshift=-11.3bp, font=\tfont] at (rel axis cs:0.5,1) {NeckT−1};
\end{axis}

% ---------------- Panel 6 ----------------
\begin{axis}[panel, mainy, at={(86.3bp,179bp)},
  ymin=-0.02, ymax=0.025,
  ytick={-0.02,-0.01,0,0.01,0.02}, yticklabels={−0.02,−0.01,0.00,0.01,0.02},
  minor ytick={-0.02,-0.019,...,0.025},
  ytick pos=both, yticklabel pos=left,
  ylabel={Signal [V]}]
\addplot[sgray, line width=46bp] coordinates {(0,0) (72,0)};
\addplot[sgray, line width=0.9bp, line join=round] table[x=x,y=up]{\tabT};
\addplot[sgray, line width=0.9bp, line join=round] table[x=x,y=lo]{\tabT};
\node[anchor=base, inner sep=0pt, yshift=-11.3bp, font=\tfont] at (rel axis cs:0.5,1) {Tmp−Bal};
\end{axis}

% ---------------- Panel 7 ----------------
\begin{axis}[panel, mainy, at={(86.3bp,71bp)},
  ymin=20.0, ymax=20.7,
  ytick={20.0,20.2,20.4,20.6}, yticklabels={20.0,20.2,20.4,20.6},
  minor ytick={20.0,20.1,...,20.7},
  ytick pos=left,
  xticklabel pos=left, xticklabels={0,10,20,30,40,50,60,70,80},
  xticklabel style={yshift=-7bp},
  ylabel={Signal [mA]},
  xlabel={Time [h]},
  xlabel style={font=\lfont, inner sep=0pt, at={(rel axis cs:0.5,0)}, anchor=base, yshift=-44.8bp}]
\addplot[sgray, line width=0.9bp] table[x=x,y=htr]{\tabH};
\node[anchor=base, inner sep=0pt, yshift=-11.3bp, font=\tfont] at (rel axis cs:0.5,1) {HtrCrnt};
\node[anchor=base east, inner sep=0pt, xshift=-4bp, yshift=-12bp, font=\tfont, text=dblue] at (rel axis cs:1,1) {Air pressure};
\node[anchor=base west, inner sep=0pt, xshift=-38.9bp, yshift=-46bp, font=\lfont] at (rel axis cs:0,0) {2026−08−06};
\end{axis}
\begin{axis}[panel, twin, at={(86.3bp,71bp)},
  ymin=0, ymax=22,
  ytick={0,10,20}, yticklabels={0,10,20},
  minor ytick={0,2,...,22},
  yticklabel style={anchor=east, xshift=19.7bp},
  ylabel={P−1000 [hPa]}, ylabel style={text=dblue}]
\addplot[dblue, line width=0.9bp] table[x=x,y=air]{\tabH};
\end{axis}
\end{tikzpicture}
\end{document}
